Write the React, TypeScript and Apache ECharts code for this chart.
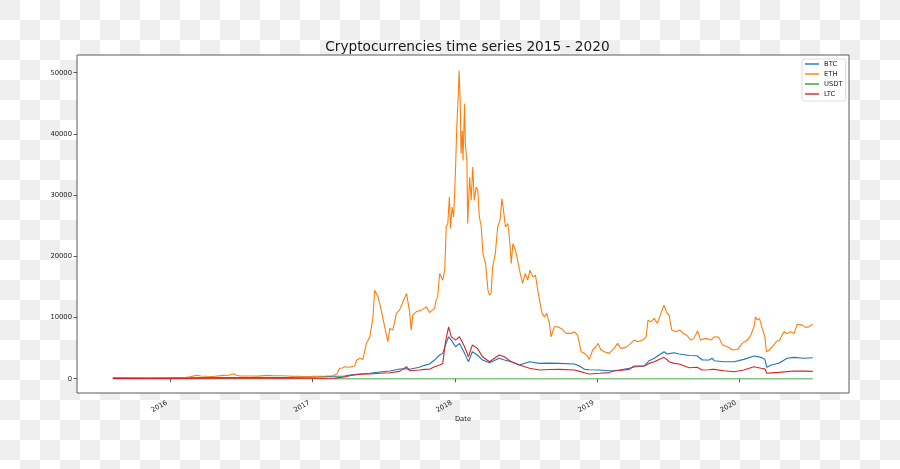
import React, { useEffect, useRef } from "react";
import * as echarts from "echarts";

const titleText = "Cryptocurrencies time series 2015 - 2020";
const seriesNames = ["BTC", "ETH", "USDT", "LTC"];
const seriesColors = ["#1f77b4", "#ff7f0e", "#2ca02c", "#d62728"];
const yTickValues = [0, 10000, 20000, 30000, 40000, 50000];
const xTickYears = ["2016", "2017", "2018", "2019", "2020"];

const ethDates = [
  "2015-08-07","2015-09-08","2015-10-29","2015-12-19","2016-01-21","2016-02-08","2016-02-21","2016-03-09","2016-03-20","2016-04-04",
  "2016-04-20","2016-05-17","2016-05-31","2016-06-11","2016-06-18","2016-06-28","2016-07-24","2016-08-13","2016-09-05","2016-09-26",
  "2016-10-17","2016-11-09","2016-11-29","2016-12-16","2017-01-02","2017-01-19","2017-02-04","2017-02-22","2017-03-04","2017-03-11",
  "2017-03-19","2017-03-24","2017-04-06","2017-04-19","2017-04-24","2017-05-02","2017-05-10","2017-05-19","2017-05-28","2017-06-05",
  "2017-06-09","2017-06-18","2017-06-26","2017-07-05","2017-07-13","2017-07-18","2017-07-26","2017-08-04","2017-08-12","2017-08-21",
  "2017-08-30","2017-09-07","2017-09-11","2017-09-15","2017-09-24","2017-10-07","2017-10-20","2017-10-28","2017-11-10","2017-11-14",
  "2017-11-18","2017-11-23","2017-12-01","2017-12-06","2017-12-10","2017-12-14","2017-12-18","2017-12-21","2017-12-25","2017-12-29",
  "2018-01-03","2018-01-06","2018-01-10","2018-01-12","2018-01-15","2018-01-17","2018-01-20","2018-01-22","2018-01-26","2018-01-28",
  "2018-02-01","2018-02-03","2018-02-08","2018-02-12","2018-02-16","2018-02-20","2018-02-25","2018-03-01","2018-03-05","2018-03-10",
  "2018-03-14","2018-03-21","2018-03-27","2018-03-31","2018-04-04","2018-04-08","2018-04-15","2018-04-21","2018-04-27","2018-05-02",
  "2018-05-06","2018-05-11","2018-05-17","2018-05-21","2018-05-26","2018-05-30","2018-06-06","2018-06-11","2018-06-18","2018-06-24",
  "2018-07-01","2018-07-07","2018-07-13","2018-07-20","2018-07-27","2018-08-02","2018-08-08","2018-08-13","2018-08-19","2018-08-25",
  "2018-09-01","2018-09-05","2018-09-14","2018-09-22","2018-10-01","2018-10-14","2018-10-27","2018-11-04","2018-11-12","2018-11-17",
  "2018-11-21","2018-11-30","2018-12-08","2018-12-12","2018-12-21","2018-12-29","2019-01-04","2019-01-11","2019-01-20","2019-02-01",
  "2019-02-14","2019-02-23","2019-03-03","2019-03-16","2019-03-29","2019-04-06","2019-04-15","2019-04-28","2019-05-07","2019-05-12",
  "2019-05-19","2019-05-28","2019-06-05","2019-06-14","2019-06-22","2019-06-28","2019-07-05","2019-07-12","2019-07-22","2019-08-02",
  "2019-08-10","2019-08-19","2019-08-30","2019-09-07","2019-09-16","2019-09-24","2019-10-07","2019-10-20","2019-10-29","2019-11-10",
  "2019-11-19","2019-12-02","2019-12-15","2019-12-28","2020-01-09","2020-01-22","2020-01-31","2020-02-08","2020-02-12","2020-02-16",
  "2020-02-22","2020-02-28","2020-03-07","2020-03-11","2020-03-18","2020-03-26","2020-04-05","2020-04-14","2020-04-25","2020-05-03",
  "2020-05-12","2020-05-21","2020-05-29","2020-06-11","2020-06-20","2020-06-28","2020-07-08"
];
const ethValues = [
  100, 60, 40, 35, 60, 200, 300, 550, 450, 390,
  360, 550, 560, 820, 600, 440, 440, 420, 550, 480,
  490, 400, 390, 320, 390, 400, 440, 490, 770, 1700,
  1750, 1960, 1860, 2070, 3050, 3330, 3160, 5770, 6850, 10100,
  14470, 13370, 11200, 8480, 6030, 8220, 7940, 10670, 11200, 12560,
  13930, 10930, 7940, 10390, 10930, 11200, 11740, 10800, 11480, 12840,
  13370, 17190, 16100, 17700, 24790, 25350, 29690, 24530, 28050, 26420,
  34580, 41100, 46550, 50350, 44920, 36760, 40560, 35670, 44920, 38390,
  35670, 25350, 32950, 29150, 34580, 29150, 31320, 30780, 26420, 24790,
  20450, 18820, 14470, 13650, 13930, 18270, 20450, 24790, 25880, 29420,
  27510, 24790, 25350, 23160, 18820, 22080, 20990, 19360, 17190, 15560,
  17190, 16100, 17730, 16640, 16910, 14470, 12300, 10670, 10110, 10670,
  9040, 6850, 8500, 8480, 8220, 7400, 7400, 7670, 7130, 5770,
  4400, 4140, 3590, 3160, 4680, 5220, 5770, 4680, 4400, 4140,
  4960, 5770, 4960, 5120, 5770, 6310, 6030, 6310, 6850, 9570,
  9300, 9850, 9040, 10670, 12020, 10930, 10390, 7940, 7670, 7940,
  7400, 7130, 6310, 6590, 7800, 6310, 6590, 6310, 6850, 6750,
  5500, 5220, 4680, 4800, 5770, 6310, 7130, 8480, 10110, 9570,
  9850, 8480, 6850, 4400, 4680, 5220, 6030, 6310, 7670, 7400,
  7670, 7400, 8920, 8760, 8380, 8480, 8920
];

const coinDates = [
  "2015-08-07","2015-11-01","2016-02-01","2016-05-01","2016-08-01","2016-11-01","2017-01-19","2017-02-27","2017-03-24","2017-04-06",
  "2017-05-02","2017-05-28","2017-06-22","2017-07-18","2017-08-12","2017-08-30","2017-09-07","2017-10-02","2017-10-15","2017-10-28",
  "2017-11-10","2017-11-23","2017-12-01","2017-12-08","2017-12-16","2017-12-23","2018-01-03","2018-01-13","2018-01-26","2018-02-05",
  "2018-02-15","2018-02-28","2018-03-13","2018-03-31","2018-04-25","2018-05-08","2018-05-26","2018-06-16","2018-07-12","2018-08-06",
  "2018-09-01","2018-09-27","2018-11-04","2018-11-17","2018-11-30","2018-12-12","2019-01-07","2019-02-01","2019-02-14","2019-02-27",
  "2019-03-25","2019-04-06","2019-05-02","2019-05-15","2019-05-28","2019-06-22","2019-06-30","2019-07-05","2019-07-18","2019-07-31",
  "2019-08-26","2019-09-15","2019-09-28","2019-10-16","2019-10-24","2019-10-29","2019-11-23","2019-12-19","2020-01-13","2020-02-08",
  "2020-02-26","2020-03-07","2020-03-12","2020-03-23","2020-04-12","2020-05-03","2020-05-21","2020-06-15","2020-07-08"
];
const btcValues = [
  150, 120, 150, 180, 200, 220, 300, 400, 450, 600,
  770, 880, 1090, 1260, 1580, 1600, 1530, 1860, 2180, 2400,
  3050, 3870, 4140, 5500, 6850, 6310, 5220, 5770, 4140, 2770,
  4400, 3870, 3050, 2600, 3330, 3050, 2770, 2230, 2770, 2510,
  2550, 2510, 2400, 2070, 1530, 1450, 1420, 1300, 1350, 1420,
  1700, 1900, 2070, 2940, 3330, 4400, 4030, 4100, 4240, 4030,
  3800, 3750, 3050, 3050, 3330, 2940, 2770, 2770, 3160, 3700,
  3490, 3160, 1860, 2230, 2510, 3330, 3490, 3330, 3420
];
const ltcValues = [
  60, 50, 60, 70, 80, 70, 80, 100, 300, 490,
  720, 770, 880, 980, 1200, 1960, 1300, 1420, 1530, 1550,
  1960, 2230, 2500, 6000, 8480, 6850, 6310, 6850, 5220, 3590,
  5500, 4960, 3590, 2770, 3870, 3590, 2770, 2230, 1700, 1420,
  1500, 1530, 1420, 1200, 980, 770, 880, 1000, 1260, 1350,
  1530, 2070, 2070, 2500, 2770, 3490, 3100, 2770, 2500, 2400,
  1800, 1860, 1420, 1450, 1530, 1530, 1300, 1140, 1420, 1960,
  1700, 1600, 880, 950, 1040, 1150, 1260, 1230, 1200
];

const usdtDates = ["2015-08-07", "2016-06-01", "2017-03-01", "2018-01-01", "2018-10-15", "2019-06-01", "2020-03-12", "2020-07-08"];
const usdtValues = [1, 1, 1, 1.01, 0.98, 1, 1.02, 1];

const xRange = ["2015-05-07", "2020-10-09"];

const FONT = "DejaVu Sans";

function toTime(s: string): number {
  const [y, m, d] = s.split("-").map(Number);
  return new Date(y, m - 1, d).getTime();
}

export default function App() {
  const ref = useRef<HTMLDivElement>(null);
  useEffect(() => {
    if (!ref.current) return;
    const chart = echarts.init(ref.current, null, { renderer: "svg" });
    const pair = (dates: string[], vals: number[]) => dates.map((d, i) => [toTime(d), vals[i]]);
    const seriesData = [
      pair(coinDates, btcValues),
      pair(ethDates, ethValues),
      pair(usdtDates, usdtValues),
      pair(coinDates, ltcValues),
    ];
    const yearTicks = xTickYears.map((y) => new Date(Number(y), 0, 1).getTime());
    chart.setOption({
      animation: false,
      title: {
        text: titleText,
        left: 462.5,
        top: 34,
        textAlign: "center",
        textStyle: { fontFamily: FONT, fontSize: 13.7, fontWeight: "normal", color: "#1a1a1a" },
      },
      legend: {
        orient: "vertical",
        left: 802,
        top: 59,
        data: seriesNames,
        icon: "rect",
        itemWidth: 14,
        itemHeight: 1.4,
        itemGap: 2,
        padding: [1, 3, 3, 3],
        backgroundColor: "rgba(255,255,255,0.8)",
        borderColor: "#d4d4d4",
        borderWidth: 0.8,
        borderRadius: 2,
        textStyle: { fontFamily: FONT, fontSize: 6.8, lineHeight: 8, color: "#222" },
      },
      grid: {
        left: 77,
        top: 55,
        right: 51,
        bottom: 76,
        show: true,
        backgroundColor: "#ffffff",
        borderColor: "#4a4a4a",
        borderWidth: 0.9,
      },
      xAxis: {
        type: "value",
        min: toTime(xRange[0]),
        max: toTime(xRange[1]),
        name: "Date",
        nameLocation: "middle",
        nameGap: 22,
        nameMoveOverlap: false,
        nameTextStyle: { fontFamily: FONT, fontSize: 6.8, color: "#222" },
        axisLine: { show: false },
        splitLine: { show: false },
        axisTick: { show: true, length: 3.5, customValues: yearTicks, lineStyle: { color: "#333", width: 0.8 } },
        axisLabel: {
          customValues: yearTicks,
          rotate: 30,
          margin: 7,
          padding: [0, 4, 0, 0],
          fontFamily: FONT,
          fontSize: 6.8,
          color: "#222",
          formatter: (v: number) => String(new Date(v).getFullYear()),
        },
      },
      yAxis: {
        type: "value",
        min: -2337,
        max: 52892,
        axisLine: { show: false },
        splitLine: { show: false },
        axisTick: { show: true, length: 3.5, customValues: yTickValues, lineStyle: { color: "#333", width: 0.8 } },
        axisLabel: {
          customValues: yTickValues,
          margin: 5,
          fontFamily: FONT,
          fontSize: 6.8,
          color: "#222",
          formatter: (v: number) => String(v),
        },
      },
      series: seriesNames.map((name, i) => ({
        name,
        type: "line",
        data: seriesData[i],
        showSymbol: false,
        symbol: "none",
        color: seriesColors[i],
        lineStyle: { width: i === 2 ? 1.6 : 1.1, color: seriesColors[i], opacity: i === 2 ? 0.6 : 1 },
        emphasis: { disabled: true },
      })),
    });
    return () => chart.dispose();
  }, []);
  return (
    <div
      ref={ref}
      style={{
        position: "fixed",
        left: 0,
        top: 0,
        width: 900,
        height: 469,
        backgroundImage: "conic-gradient(#ffffff 0 25%, #efefef 0 50%, #ffffff 0 75%, #efefef 0)",
        backgroundSize: "40px 40px",
      }}
    />
  );
}
